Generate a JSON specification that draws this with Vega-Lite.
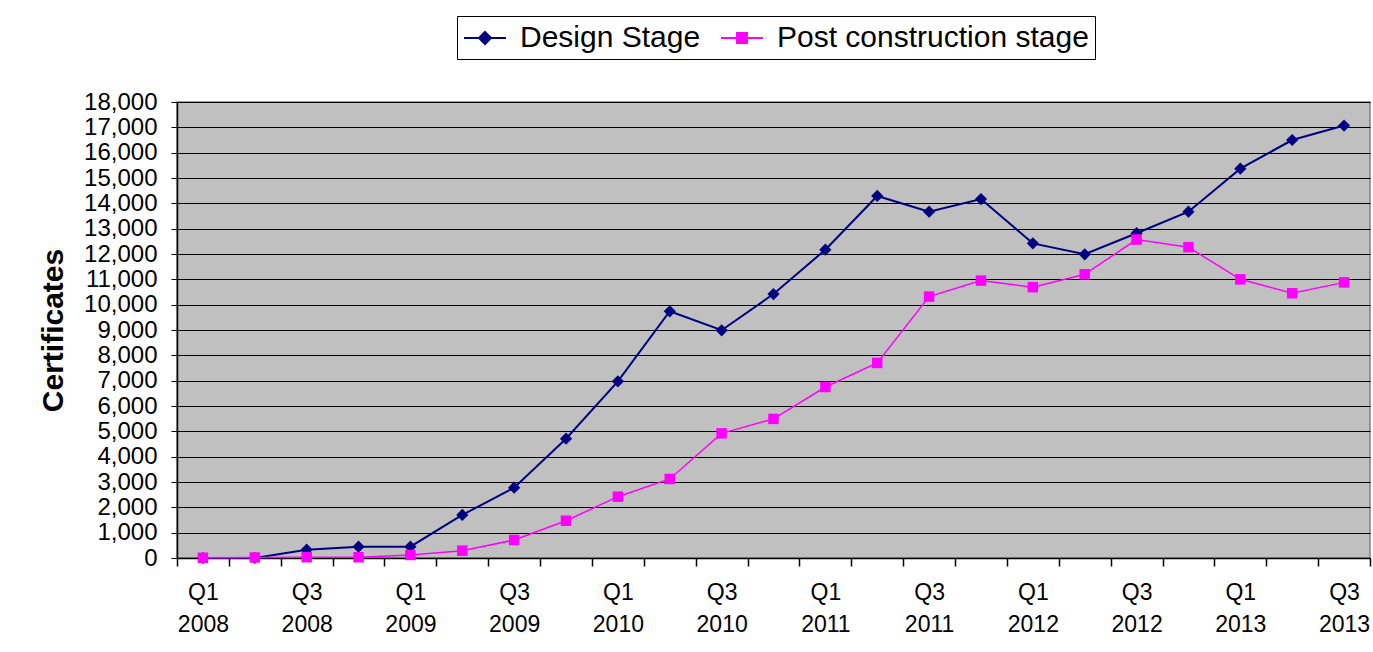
{
  "$schema": "https://vega.github.io/schema/vega-lite/v6.json",
  "width": 1193,
  "height": 456,
  "autosize": {"type": "none"},
  "padding": {"left": 177, "top": 102, "right": 3, "bottom": 94},
  "background": "white",
  "config": {
    "font": "Liberation Sans",
    "view": {"fill": "#C0C0C0", "stroke": "#808080", "strokeWidth": 1.5},
    "axis": {"labelFont": "Liberation Sans", "titleFont": "Liberation Sans", "labelColor": "black", "titleColor": "black", "domainColor": "black", "tickColor": "black"}
  },
  "data": {
    "values": [
      {"i": 1, "series": "Design Stage", "v": 0},
      {"i": 2, "series": "Design Stage", "v": 0},
      {"i": 3, "series": "Design Stage", "v": 330},
      {"i": 4, "series": "Design Stage", "v": 446},
      {"i": 5, "series": "Design Stage", "v": 446},
      {"i": 6, "series": "Design Stage", "v": 1698},
      {"i": 7, "series": "Design Stage", "v": 2776},
      {"i": 8, "series": "Design Stage", "v": 4710},
      {"i": 9, "series": "Design Stage", "v": 6975},
      {"i": 10, "series": "Design Stage", "v": 9740},
      {"i": 11, "series": "Design Stage", "v": 8990},
      {"i": 12, "series": "Design Stage", "v": 10420},
      {"i": 13, "series": "Design Stage", "v": 12170},
      {"i": 14, "series": "Design Stage", "v": 14290},
      {"i": 15, "series": "Design Stage", "v": 13670},
      {"i": 16, "series": "Design Stage", "v": 14170},
      {"i": 17, "series": "Design Stage", "v": 12420},
      {"i": 18, "series": "Design Stage", "v": 11990},
      {"i": 19, "series": "Design Stage", "v": 12820},
      {"i": 20, "series": "Design Stage", "v": 13670},
      {"i": 21, "series": "Design Stage", "v": 15370},
      {"i": 22, "series": "Design Stage", "v": 16500},
      {"i": 23, "series": "Design Stage", "v": 17070},
      {"i": 1, "series": "Post construction stage", "v": 10},
      {"i": 2, "series": "Post construction stage", "v": 20},
      {"i": 3, "series": "Post construction stage", "v": 30},
      {"i": 4, "series": "Post construction stage", "v": 30},
      {"i": 5, "series": "Post construction stage", "v": 120},
      {"i": 6, "series": "Post construction stage", "v": 290},
      {"i": 7, "series": "Post construction stage", "v": 710},
      {"i": 8, "series": "Post construction stage", "v": 1470},
      {"i": 9, "series": "Post construction stage", "v": 2420},
      {"i": 10, "series": "Post construction stage", "v": 3120},
      {"i": 11, "series": "Post construction stage", "v": 4920},
      {"i": 12, "series": "Post construction stage", "v": 5490},
      {"i": 13, "series": "Post construction stage", "v": 6750},
      {"i": 14, "series": "Post construction stage", "v": 7700},
      {"i": 15, "series": "Post construction stage", "v": 10320},
      {"i": 16, "series": "Post construction stage", "v": 10950},
      {"i": 17, "series": "Post construction stage", "v": 10690},
      {"i": 18, "series": "Post construction stage", "v": 11200},
      {"i": 19, "series": "Post construction stage", "v": 12570},
      {"i": 20, "series": "Post construction stage", "v": 12270},
      {"i": 21, "series": "Post construction stage", "v": 11000},
      {"i": 22, "series": "Post construction stage", "v": 10450},
      {"i": 23, "series": "Post construction stage", "v": 10880}
    ]
  },
  "encoding": {
    "x": {
      "field": "i",
      "type": "quantitative",
      "scale": {"domain": [0.5, 23.5], "nice": false, "zero": false},
      "axis": {
        "title": null,
        "values": [0.5, 1, 1.5, 2, 2.5, 3, 3.5, 4, 4.5, 5, 5.5, 6, 6.5, 7, 7.5, 8, 8.5, 9, 9.5, 10, 10.5, 11, 11.5, 12, 12.5, 13, 13.5, 14, 14.5, 15, 15.5, 16, 16.5, 17, 17.5, 18, 18.5, 19, 19.5, 20, 20.5, 21, 21.5, 22, 22.5, 23, 23.5],
        "labelAngle": 0,
        "labelFontSize": 23,
        "labelExpr": "datum.value % 2 === 1 ? ['Q' + ((datum.value - 1) % 4 + 1), '' + (2008 + floor((datum.value - 1) / 4))] : ''",
        "labelOverlap": false,
        "labelBound": false,
        "labelFlush": false,
        "tickSize": 8,
        "tickWidth": 1.5,
        "tickOpacity": {"condition": {"test": "datum.value % 1 === 0", "value": 0}, "value": 1},
        "labelPadding": 15,
        "labelLineHeight": 32,
        "grid": false,
        "domainWidth": 1.5
      }
    },
    "y": {
      "field": "v",
      "type": "quantitative",
      "scale": {"domain": [0, 18000], "nice": false},
      "axis": {
        "title": "Certificates",
        "titleFontSize": 30,
        "titleFontWeight": "bold",
        "titleX": -115,
        "titleBaseline": "alphabetic",
        "titleAngle": -90,
        "values": [0, 1000, 2000, 3000, 4000, 5000, 6000, 7000, 8000, 9000, 10000, 11000, 12000, 13000, 14000, 15000, 16000, 17000, 18000],
        "labelExpr": "format(datum.value, ',')",
        "labelFontSize": 24,
        "tickSize": 6,
        "labelPadding": 14,
        "gridColor": "black",
        "gridWidth": 1,
        "gridOpacity": 1,
        "domainWidth": 1.5
      }
    },
    "color": {
      "field": "series",
      "type": "nominal",
      "scale": {"domain": ["Design Stage", "Post construction stage"], "range": ["#000080", "#FF00FF"]},
      "legend": {
        "orient": "none",
        "legendX": 280,
        "legendY": -86,
        "direction": "horizontal",
        "title": null,
        "labelFontSize": 30,
        "labelFont": "Liberation Sans",
        "labelColor": "black",
        "labelLimit": 600,
        "padding": 6,
        "strokeColor": "black",
        "fillColor": "white",
        "symbolSize": 900,
        "symbolOffset": 6,
        "symbolStrokeWidth": 2,
        "labelOffset": 19,
        "columnPadding": 16,
        "gridAlign": "none",
        "encode": {
          "symbols": {
            "update": {
              "shape": {"signal": "datum.value === 'Design Stage' ? 'M-1.4,0H1.4M0,-0.4L0.4,0L0,0.4L-0.4,0Z' : 'M-1.4,0H1.4M-0.33,-0.33H0.33V0.33H-0.33Z'"},
              "fill": {"signal": "datum.value === 'Design Stage' ? '#000080' : '#FF00FF'"},
              "stroke": {"signal": "datum.value === 'Design Stage' ? '#000080' : '#FF00FF'"},
              "strokeWidth": {"value": 2},
              "opacity": {"value": 1},
              "fillOpacity": {"value": 1}
            }
          }
        }
      }
    }
  },
  "layer": [
    {
      "transform": [{"filter": "datum.series === 'Design Stage'"}],
      "mark": {"type": "line", "strokeWidth": 2},
      "encoding": {"detail": {"field": "series"}}
    },
    {
      "transform": [{"filter": "datum.series === 'Design Stage'"}],
      "mark": {"type": "point", "shape": "diamond", "size": 150, "filled": true, "opacity": 1},
      "encoding": {"detail": {"field": "series"}}
    },
    {
      "transform": [{"filter": "datum.series === 'Post construction stage'"}],
      "mark": {"type": "line", "strokeWidth": 1.5},
      "encoding": {"detail": {"field": "series"}}
    },
    {
      "transform": [{"filter": "datum.series === 'Post construction stage'"}],
      "mark": {"type": "point", "shape": "square", "size": 110, "filled": true, "opacity": 1},
      "encoding": {"detail": {"field": "series"}}
    }
  ]
}
